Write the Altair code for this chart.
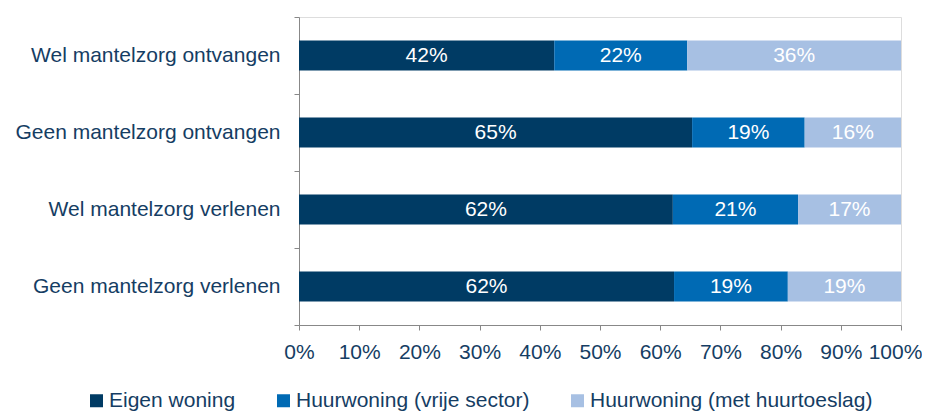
import altair as alt
import pandas as pd

categories = ["Wel mantelzorg ontvangen", "Geen mantelzorg ontvangen",
              "Wel mantelzorg verlenen", "Geen mantelzorg verlenen"]
series = ["Eigen woning", "Huurwoning (vrije sector)", "Huurwoning (met huurtoeslag)"]
eigen = [42.4, 65.3, 62.1, 62.3]
vrij = [22.1, 18.7, 20.8, 18.9]
toeslag = [35.5, 16.0, 17.1, 18.8]
colors = ["#003B64", "#006AB4", "#A7C0E3"]
x_ticks = [0, 10, 20, 30, 40, 50, 60, 70, 80, 90, 100]

rows = []
for i, c in enumerate(categories):
    for j, (s, vals) in enumerate(zip(series, [eigen, vrij, toeslag])):
        rows.append({"cat": c, "serie": s, "order": j, "value": vals[i],
                     "label": f"{round(vals[i])}%"})
df = pd.DataFrame(rows)

TEXT = "#153D63"
FONT = "Liberation Sans"
FS = 21

y_enc = alt.Y("cat:N", sort=categories, title=None,
              scale=alt.Scale(paddingInner=0, paddingOuter=0),
              axis=alt.Axis(tickBand="extent", labelFontSize=FS, labelColor=TEXT,
                            labelFont=FONT, labelPadding=14, domainColor="#888888",
                            tickColor="#888888", tickSize=5, minExtent=291, maxExtent=291,
                            labelLimit=400))

bars = alt.Chart(df).mark_bar(size=30).encode(
    x=alt.X("value:Q", stack="zero", title=None,
            scale=alt.Scale(domain=[0, 100], nice=False),
            axis=alt.Axis(values=x_ticks, labelExpr="datum.value + '%'",
                          labelFontSize=FS, labelColor=TEXT, labelFont=FONT,
                          domainColor="#888888", tickColor="#888888", tickSize=5,
                          labelPadding=11, grid=False, labelOverlap=False,
                          labelFlush=False,
                          labelOffset={"condition": {"test": "datum.value == 100", "value": -6},
                                       "value": 0})),
    y=y_enc,
    color=alt.Color("serie:N", sort=series,
                    scale=alt.Scale(domain=series, range=colors),
                    legend=alt.Legend(title=None, orient="none", direction="horizontal",
                                      legendX=-213, legendY=373,
                                      symbolType="square", symbolSize=169,
                                      symbolStrokeWidth=0,
                                      labelFontSize=FS, labelColor=TEXT, labelFont=FONT,
                                      columnPadding=37, labelOffset=2, labelLimit=400)),
    order=alt.Order("order:Q"),
)

labels = alt.Chart(df).transform_stack(
    stack="value", groupby=["cat"], as_=["x0", "x1"],
    sort=[alt.SortField("order", order="ascending")]
).transform_calculate(
    mid="(datum.x0 + datum.x1) / 2"
).mark_text(color="white", fontSize=FS, font=FONT, baseline="middle").encode(
    x=alt.X("mid:Q"),
    y=alt.Y("cat:N", sort=categories),
    text="label:N",
)

chart = (bars + labels).properties(
    width=602, height=308,
    padding={"left": 0, "top": -2, "right": 0, "bottom": 0},
).configure_view(stroke=None).configure(font=FONT)

chart.save("out.html", embed_options={"renderer": "svg", "actions": False})
